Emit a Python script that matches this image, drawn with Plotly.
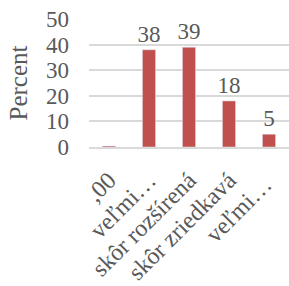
import plotly.graph_objects as go

categories = [",00", "veľmi…", "skôr rozšírená", "skôr zriedkavá", "veľmi… "]
values = [0.4, 38, 39, 18, 5]
labels = ["", "38", "39", "18", "5"]
y_ticks = [0, 10, 20, 30, 40, 50]

FONT = "Liberation Serif, DejaVu Serif, serif"
GRAY = "#595959"

fig = go.Figure(go.Bar(
    x=categories, y=values, text=labels, textposition="outside",
    textfont=dict(family=FONT, size=23, color=GRAY),
    marker=dict(color="#C0504D"), cliponaxis=False,
))
fig.update_layout(
    width=289, height=286, margin=dict(l=89, r=0, t=19, b=139, autoexpand=False),
    plot_bgcolor="white", paper_bgcolor="white", showlegend=False,
    bargap=0.67,
    uniformtext=dict(minsize=23, mode="show"),
    font=dict(family=FONT, color=GRAY),
)
fig.update_yaxes(
    range=[0, 50], tickvals=y_ticks, showgrid=True, gridcolor="#D9D9D9", gridwidth=1.5,
    zeroline=False, tickfont=dict(family=FONT, size=23, color=GRAY),
    automargin=False, ticklabelstandoff=19,
    title=dict(text="Percent", font=dict(family=FONT, size=25, color=GRAY), standoff=11),
)
fig.update_xaxes(
    tickangle=-45, tickfont=dict(family=FONT, size=24, color=GRAY), automargin=False,
    ticklabelstandoff=8,
    showline=True, linecolor="#D9D9D9", linewidth=1.5, ticks="",
)
fig.write_html("out.html", config={"displayModeBar": False},
               post_script="document.body.style.margin='0';")
